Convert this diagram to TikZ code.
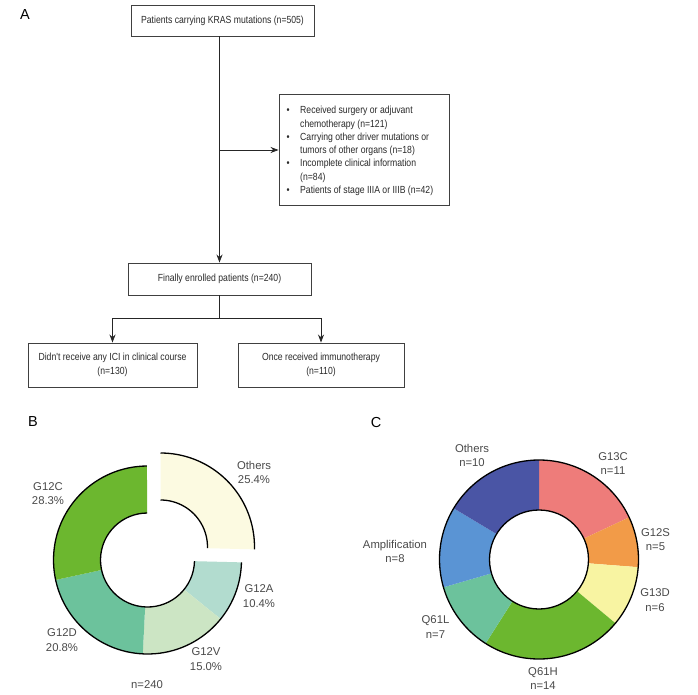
\documentclass[tikz,border=0pt]{standalone}
\usepackage{fontspec}
\setmainfont{Liberation Sans}
\newfontfamily\flowfont[FakeStretch=0.84]{Liberation Sans}
\usetikzlibrary{arrows.meta,calc}
\definecolor{bOth}{HTML}{FCFAE1}
\definecolor{bA}{HTML}{B2DCCF}
\definecolor{bV}{HTML}{CCE5C4}
\definecolor{bD}{HTML}{6CC29C}
\definecolor{bC}{HTML}{6CB72F}
\definecolor{cGC}{HTML}{EE7C7A}
\definecolor{cGS}{HTML}{F29B48}
\definecolor{cGD}{HTML}{F8F4A2}
\definecolor{cQH}{HTML}{6CB72F}
\definecolor{cQL}{HTML}{6CC29C}
\definecolor{cAm}{HTML}{5A94D4}
\definecolor{cOt}{HTML}{4A55A5}
\definecolor{txt}{HTML}{2A2A2A}
\newcommand\dslice[6]{% center, a1, a2, R, r, color
  \fill[#6] ($(#1)+(#2:#4)$) arc[start angle=#2, end angle=#3, radius=#4]
     -- ($(#1)+(#3:#5)$) arc[start angle=#3, end angle=#2, radius=#5] -- cycle;}
\begin{document}
\begin{tikzpicture}[x=1pt,y=-1pt,
  flowbox/.style={draw=black!75, line width=0.9pt, fill=white, inner sep=0pt,
    font=\flowfont\fontsize{10.3}{14}\selectfont, text=txt, align=center},
  arr/.style={draw=black!85, line width=0.8pt, -{Stealth[length=8pt,width=6pt]}},
  conn/.style={draw=black!85, line width=0.8pt},
  panel/.style={font=\fontsize{14.5}{16}\selectfont, text=black, inner sep=0pt},
  plab/.style={font=\fontsize{11.3}{14.5}\selectfont, text=txt!85, align=center, inner sep=0pt},
  ring/.style={draw=black, line width=1.3pt}]
\useasboundingbox (0,0) rectangle (698,695);
\fill[white] (0,0) rectangle (698,695);

% ---------- Panel A ----------
\node[panel] (lA) at (25,15) {A};
\node[flowbox, minimum width=183pt, minimum height=31pt] (b1) at (222.5,20.5)
  {Patients carrying KRAS mutations (n=505)};
\node[flowbox, minimum width=183pt, minimum height=32pt] (b2) at (219.5,279)
  {Finally enrolled patients (n=240)};
\node[flowbox, minimum width=170pt, minimum height=111pt] (ex) at (364,149.5) {};
\node[anchor=base west, inner sep=0pt, font=\flowfont\fontsize{10.3}{13.3}\selectfont, text=txt] (extext) at (284,113.8)
  {\begin{tabular}[t]{@{}p{16pt}@{}p{150pt}@{}}
   \makebox[8pt][c]{\textbullet} & Received surgery or adjuvant\newline chemotherapy (n=121)\\
   \makebox[8pt][c]{\textbullet} & Carrying other driver mutations or\newline tumors of other organs (n=18)\\
   \makebox[8pt][c]{\textbullet} & Incomplete clinical information\newline (n=84)\\
   \makebox[8pt][c]{\textbullet} & Patients of stage IIIA or IIIB (n=42)
   \end{tabular}};
\node[flowbox, minimum width=169pt, minimum height=44pt] (b3) at (112.5,365)
  {Didn't receive any ICI in clinical course\\(n=130)};
\node[flowbox, minimum width=166pt, minimum height=44pt] (b4) at (321,365)
  {Once received immunotherapy\\(n=110)};

\coordinate (br) at (219.5,150);
\coordinate (sp) at (219.5,318);
\draw[arr] (b2.north |- b1.south) -- (b2.north);
\draw[arr] (br) -- (ex.west |- br);
\draw[conn] (b2.south) -- (sp);
\draw[conn] (b3.north |- sp) -- (b4.north |- sp);
\draw[arr] (b3.north |- sp) -- (b3.north);
\draw[arr] (b4.north |- sp) -- (b4.north);

% ---------- Panel B ----------
\node[panel] (lB) at (33,422) {B};
\coordinate (cb) at (147.5,560);
\coordinate (cbx) at (160.5,547);
\dslice{cbx}{90}{-1.44}{94pt}{47pt}{bOth}
\dslice{cb}{-1.44}{-38.88}{94pt}{47pt}{bA}
\dslice{cb}{-38.88}{-92.88}{94pt}{47pt}{bV}
\dslice{cb}{-92.88}{-167.76}{94pt}{47pt}{bD}
\dslice{cb}{-167.76}{-269.64}{94pt}{47pt}{bC}
\draw[ring] ($(cb)+(-1.44:94pt)$) arc[start angle=-1.44, end angle=-269.64, radius=94pt];
\draw[ring] ($(cb)+(-1.44:47pt)$) arc[start angle=-1.44, end angle=-269.64, radius=47pt];
\draw[ring] ($(cbx)+(90:94pt)$) arc[start angle=90, end angle=-1.44, radius=94pt];
\draw[ring] ($(cbx)+(90:47pt)$) arc[start angle=90, end angle=-1.44, radius=47pt];

\node[plab] (lbOth) at (254,472.5) {Others\\25.4\%};
\node[plab] (lbC) at (48,493.5) {G12C\\28.3\%};
\node[plab] (lbA) at (259,596) {G12A\\10.4\%};
\node[plab] (lbV) at (206,659) {G12V\\15.0\%};
\node[plab] (lbD) at (62,640) {G12D\\20.8\%};
\node[plab] (lbN) at (147,685) {n=240};

% ---------- Panel C ----------
\node[panel] (lC) at (376,423) {C};
\coordinate (cc) at (539,559.5);
\dslice{cc}{90}{25.08}{99.5pt}{49.5pt}{cGC}
\dslice{cc}{25.08}{-4.43}{99.5pt}{49.5pt}{cGS}
\dslice{cc}{-4.43}{-39.84}{99.5pt}{49.5pt}{cGD}
\dslice{cc}{-39.84}{-122.46}{99.5pt}{49.5pt}{cQH}
\dslice{cc}{-122.46}{-163.77}{99.5pt}{49.5pt}{cQL}
\dslice{cc}{-163.77}{-210.98}{99.5pt}{49.5pt}{cAm}
\dslice{cc}{-210.98}{-270}{99.5pt}{49.5pt}{cOt}
\draw[ring] (cc) circle[radius=99.5pt];
\draw[ring] (cc) circle[radius=49.5pt];

\node[plab] (lcGC) at (613,463.5) {G13C\\n=11};
\node[plab] (lcGS) at (655.5,539.5) {G12S\\n=5};
\node[plab] (lcGD) at (655,600) {G13D\\n=6};
\node[plab] (lcQH) at (543,678.5) {Q61H\\n=14};
\node[plab] (lcQL) at (435.5,627) {Q61L\\n=7};
\node[plab] (lcAm) at (395,551.5) {Amplification\\n=8};
\node[plab] (lcOt) at (472,455.5) {Others\\n=10};
\end{tikzpicture}
\end{document}
